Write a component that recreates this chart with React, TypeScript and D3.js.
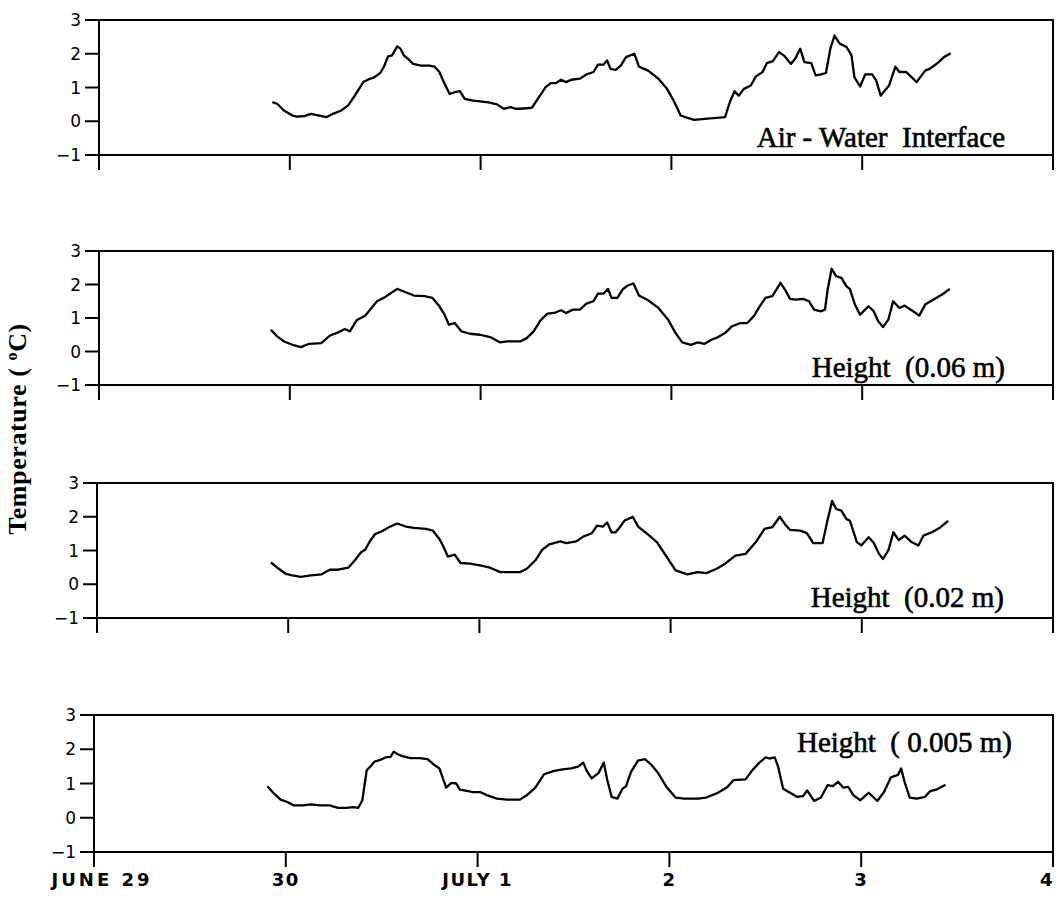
import * as d3 from 'd3'

// days since June 29 00:00 -> temperature (°C)
const airWater: [number, number][] = [
  [0.913, 0.56], [0.935, 0.51], [0.969, 0.32], [1.014, 0.17], [1.04, 0.14], [1.076, 0.15],
  [1.111, 0.22], [1.155, 0.17], [1.191, 0.12], [1.226, 0.22], [1.27, 0.32], [1.306, 0.47],
  [1.341, 0.76], [1.385, 1.16], [1.412, 1.24], [1.439, 1.29], [1.474, 1.43], [1.492, 1.6],
  [1.515, 1.92], [1.536, 1.95], [1.563, 2.22], [1.58, 2.15], [1.598, 1.95], [1.625, 1.82],
  [1.646, 1.7], [1.687, 1.65], [1.731, 1.65], [1.758, 1.62], [1.784, 1.46], [1.811, 1.11],
  [1.838, 0.81], [1.864, 0.86], [1.891, 0.89], [1.917, 0.66], [1.961, 0.61], [1.997, 0.59],
  [2.041, 0.56], [2.086, 0.5], [2.121, 0.37], [2.157, 0.42], [2.183, 0.37], [2.207, 0.37],
  [2.269, 0.4], [2.305, 0.71], [2.341, 1.01], [2.368, 1.13], [2.395, 1.13], [2.421, 1.23],
  [2.448, 1.16], [2.475, 1.23], [2.52, 1.26], [2.555, 1.39], [2.592, 1.46], [2.615, 1.68],
  [2.645, 1.68], [2.663, 1.8], [2.681, 1.55], [2.708, 1.52], [2.735, 1.65], [2.762, 1.9],
  [2.806, 2.0], [2.83, 1.62], [2.878, 1.5], [2.932, 1.26], [2.977, 0.96], [3.012, 0.61],
  [3.049, 0.17], [3.084, 0.1], [3.12, 0.04], [3.174, 0.07], [3.237, 0.1], [3.281, 0.12],
  [3.309, 0.61], [3.331, 0.89], [3.353, 0.76], [3.38, 0.96], [3.416, 1.06], [3.443, 1.33],
  [3.478, 1.46], [3.5, 1.72], [3.532, 1.78], [3.564, 2.05], [3.595, 1.92], [3.626, 1.7],
  [3.649, 1.85], [3.675, 2.15], [3.697, 1.75], [3.733, 1.72], [3.756, 1.36], [3.784, 1.39],
  [3.81, 1.43], [3.833, 2.15], [3.855, 2.54], [3.882, 2.3], [3.918, 2.2], [3.944, 1.95],
  [3.959, 1.31], [3.989, 1.03], [4.016, 1.39], [4.052, 1.39], [4.073, 1.21], [4.097, 0.76],
  [4.141, 1.06], [4.174, 1.62], [4.195, 1.46], [4.231, 1.46], [4.285, 1.16], [4.33, 1.5],
  [4.356, 1.56], [4.401, 1.75], [4.428, 1.9], [4.46, 2.0],
]

const height006: [number, number][] = [
  [0.904, 0.63], [0.934, 0.45], [0.97, 0.3], [1.014, 0.2], [1.058, 0.13], [1.102, 0.23],
  [1.165, 0.25], [1.209, 0.47], [1.253, 0.57], [1.288, 0.67], [1.315, 0.6], [1.35, 0.93],
  [1.395, 1.07], [1.421, 1.25], [1.457, 1.5], [1.492, 1.6], [1.519, 1.7], [1.563, 1.87],
  [1.607, 1.77], [1.651, 1.67], [1.705, 1.65], [1.748, 1.6], [1.784, 1.35], [1.811, 1.1],
  [1.834, 0.8], [1.864, 0.85], [1.9, 0.6], [1.944, 0.53], [1.997, 0.5], [2.05, 0.43],
  [2.103, 0.27], [2.139, 0.3], [2.207, 0.3], [2.242, 0.4], [2.278, 0.6], [2.314, 0.93],
  [2.35, 1.13], [2.386, 1.15], [2.421, 1.23], [2.448, 1.15], [2.484, 1.25], [2.52, 1.25],
  [2.555, 1.43], [2.591, 1.5], [2.615, 1.73], [2.645, 1.73], [2.668, 1.87], [2.686, 1.6],
  [2.717, 1.6], [2.744, 1.85], [2.771, 1.97], [2.801, 2.03], [2.83, 1.67], [2.878, 1.53],
  [2.932, 1.3], [2.985, 0.93], [3.022, 0.55], [3.057, 0.27], [3.102, 0.2], [3.138, 0.27],
  [3.174, 0.23], [3.21, 0.35], [3.245, 0.43], [3.281, 0.55], [3.317, 0.75], [3.362, 0.85],
  [3.398, 0.85], [3.434, 1.07], [3.461, 1.33], [3.493, 1.6], [3.529, 1.65], [3.572, 2.05],
  [3.595, 1.85], [3.622, 1.57], [3.649, 1.55], [3.69, 1.57], [3.721, 1.5], [3.748, 1.25],
  [3.784, 1.2], [3.805, 1.25], [3.819, 1.85], [3.84, 2.47], [3.863, 2.25], [3.891, 2.2],
  [3.917, 1.95], [3.935, 1.87], [3.962, 1.4], [3.989, 1.1], [4.033, 1.35], [4.06, 1.2],
  [4.084, 0.9], [4.109, 0.73], [4.137, 0.95], [4.162, 1.5], [4.195, 1.3], [4.222, 1.37],
  [4.267, 1.2], [4.299, 1.07], [4.33, 1.4], [4.374, 1.55], [4.419, 1.7], [4.455, 1.85],
]

const height002: [number, number][] = [
  [0.913, 0.63], [0.943, 0.49], [0.987, 0.31], [1.022, 0.26], [1.066, 0.22], [1.119, 0.26],
  [1.173, 0.29], [1.217, 0.43], [1.261, 0.43], [1.314, 0.49], [1.349, 0.71], [1.381, 0.95],
  [1.402, 1.02], [1.429, 1.29], [1.455, 1.49], [1.491, 1.57], [1.526, 1.69], [1.57, 1.8],
  [1.615, 1.71], [1.658, 1.67], [1.721, 1.64], [1.756, 1.59], [1.791, 1.34], [1.809, 1.15],
  [1.835, 0.82], [1.871, 0.88], [1.901, 0.63], [1.95, 0.61], [2.003, 0.56], [2.056, 0.49],
  [2.109, 0.36], [2.163, 0.36], [2.212, 0.36], [2.248, 0.46], [2.293, 0.71], [2.328, 1.02],
  [2.365, 1.18], [2.423, 1.27], [2.454, 1.22], [2.507, 1.27], [2.543, 1.41], [2.588, 1.51],
  [2.615, 1.74], [2.645, 1.71], [2.668, 1.83], [2.691, 1.54], [2.713, 1.54], [2.734, 1.69],
  [2.758, 1.88], [2.802, 2.0], [2.83, 1.71], [2.883, 1.47], [2.928, 1.25], [2.981, 0.8],
  [3.026, 0.41], [3.088, 0.29], [3.142, 0.36], [3.187, 0.33], [3.241, 0.46], [3.285, 0.61],
  [3.339, 0.85], [3.392, 0.9], [3.446, 1.25], [3.491, 1.64], [3.532, 1.69], [3.571, 2.0],
  [3.598, 1.78], [3.625, 1.61], [3.678, 1.59], [3.714, 1.51], [3.746, 1.22], [3.795, 1.22],
  [3.822, 1.93], [3.845, 2.47], [3.866, 2.23], [3.893, 2.18], [3.92, 1.93], [3.938, 1.88],
  [3.974, 1.25], [3.997, 1.15], [4.036, 1.39], [4.063, 1.22], [4.09, 0.9], [4.111, 0.75],
  [4.14, 1.02], [4.165, 1.54], [4.193, 1.31], [4.224, 1.44], [4.26, 1.25], [4.296, 1.15],
  [4.322, 1.44], [4.367, 1.54], [4.412, 1.69], [4.448, 1.86],
]

const height0005: [number, number][] = [
  [0.908, 0.9], [0.938, 0.71], [0.973, 0.53], [1.008, 0.46], [1.043, 0.36], [1.088, 0.36],
  [1.131, 0.39], [1.176, 0.36], [1.228, 0.36], [1.273, 0.29], [1.316, 0.29], [1.352, 0.31],
  [1.378, 0.29], [1.399, 0.51], [1.422, 1.39], [1.44, 1.49], [1.463, 1.64], [1.493, 1.69],
  [1.519, 1.76], [1.546, 1.78], [1.563, 1.93], [1.581, 1.86], [1.607, 1.8], [1.651, 1.74],
  [1.696, 1.74], [1.739, 1.71], [1.775, 1.54], [1.801, 1.44], [1.819, 1.15], [1.836, 0.88],
  [1.863, 1.02], [1.889, 1.0], [1.907, 0.82], [1.951, 0.78], [1.978, 0.75], [2.013, 0.75],
  [2.048, 0.66], [2.101, 0.56], [2.154, 0.53], [2.221, 0.53], [2.257, 0.66], [2.301, 0.88],
  [2.346, 1.27], [2.399, 1.37], [2.444, 1.41], [2.488, 1.44], [2.524, 1.49], [2.551, 1.61],
  [2.569, 1.37], [2.595, 1.15], [2.631, 1.31], [2.658, 1.61], [2.676, 1.1], [2.699, 0.61],
  [2.729, 0.56], [2.756, 0.85], [2.774, 0.92], [2.8, 1.34], [2.836, 1.67], [2.872, 1.71],
  [2.907, 1.54], [2.943, 1.29], [2.987, 0.88], [3.032, 0.59], [3.077, 0.56], [3.148, 0.56],
  [3.192, 0.59], [3.246, 0.71], [3.299, 0.88], [3.335, 1.1], [3.397, 1.12], [3.433, 1.39],
  [3.469, 1.61], [3.501, 1.76], [3.522, 1.73], [3.549, 1.76], [3.567, 1.49], [3.593, 0.85],
  [3.629, 0.73], [3.665, 0.61], [3.697, 0.63], [3.718, 0.8], [3.754, 0.49], [3.79, 0.59],
  [3.825, 0.95], [3.852, 0.92], [3.879, 1.05], [3.906, 0.88], [3.932, 0.9], [3.959, 0.66],
  [3.995, 0.51], [4.039, 0.73], [4.084, 0.49], [4.119, 0.75], [4.155, 1.18], [4.191, 1.25],
  [4.208, 1.44], [4.226, 1.05], [4.253, 0.59], [4.289, 0.56], [4.333, 0.61], [4.36, 0.78],
  [4.396, 0.83], [4.435, 0.95],
]

const dayTicks = [0, 1, 2, 3, 4, 5]
const dayLabels = ['JUNE 29', '30', 'JULY 1', '2', '3', '4']
const tempTicks = [3, 2, 1, 0, -1]
const panelTitles = ['Air - Water  Interface', 'Height  (0.06 m)', 'Height  (0.02 m)', 'Height  ( 0.005 m)']
const panelSeries = [airWater, height006, height002, height0005]

// frame geometry of each panel (the scan is slightly skewed)
const panels = [
  { left: 99, top: 20, bottom: 155, titleX: 1005, titleY: 147 },
  { left: 99, top: 251, bottom: 385, titleX: 1005, titleY: 377 },
  { left: 97, top: 483, bottom: 618, titleX: 1004, titleY: 607 },
  { left: 94, top: 715, bottom: 852, titleX: 1012, titleY: 752 },
]
const right = 1053

const tickFont = '"DejaVu Sans", sans-serif'
const serif = '"Liberation Serif", "Times New Roman", serif'

function Panel({ idx }: { idx: number }) {
  const p = panels[idx]
  const x = d3.scaleLinear().domain([0, 5]).range([p.left, right])
  const y = d3.scaleLinear().domain([-1, 3]).range([p.bottom, p.top])
  const line = d3
    .line<[number, number]>()
    .x((d) => x(d[0]))
    .y((d) => y(d[1]))
  const isLast = idx === panels.length - 1

  return (
    <g>
      <rect
        x={p.left}
        y={p.top}
        width={right - p.left}
        height={p.bottom - p.top}
        fill="none"
        stroke="#000"
        strokeWidth={2}
      />
      {tempTicks.map((t) => (
        <g key={t}>
          <line x1={p.left - 14} x2={p.left} y1={y(t)} y2={y(t)} stroke="#000" strokeWidth={2} />
          <text
            x={p.left - 18}
            y={y(t)}
            dy="0.36em"
            textAnchor="end"
            fontFamily={tickFont}
            fontSize={17}
          >
            {t < 0 ? '\u2212' + Math.abs(t) : t}
          </text>
        </g>
      ))}
      {dayTicks.map((d) => (
        <line key={d} x1={x(d)} x2={x(d)} y1={p.bottom} y2={p.bottom + 15} stroke="#000" strokeWidth={2} />
      ))}
      {isLast &&
        dayTicks.map((d, i) => (
          <text
            key={'l' + d}
            x={i === 0 ? x(d) + 8 : i === dayTicks.length - 1 ? x(d) - 6 : x(d)}
            y={886}
            textAnchor="middle"
            fontFamily={tickFont}
            fontSize={18}
            fontWeight="bold"
            letterSpacing={i === 0 ? 3 : 1.5}
            style={{ whiteSpace: 'pre' }}
          >
            {dayLabels[i]}
          </text>
        ))}
      <path
        d={line(panelSeries[idx]) ?? ''}
        fill="none"
        stroke="#000"
        strokeWidth={2.3}
        strokeLinejoin="round"
        strokeLinecap="round"
      />
      <text
        x={p.titleX}
        y={p.titleY}
        textAnchor="end"
        fontFamily={serif}
        fontSize={29}
        stroke="#000"
        strokeWidth={0.6}
        style={{ whiteSpace: 'pre' }}
      >
        {panelTitles[idx]}
      </text>
    </g>
  )
}

export default function App() {
  return (
    <svg
      width={1056}
      height={900}
      style={{ position: 'absolute', left: 0, top: 0, background: '#fff' }}
    >
      {panels.map((_, i) => (
        <Panel key={i} idx={i} />
      ))}
      <text
        transform="translate(26, 429) rotate(-90)"
        textAnchor="middle"
        fontFamily={serif}
        fontSize={26}
        fontWeight="bold"
        letterSpacing={0.6}
        style={{ whiteSpace: 'pre' }}
      >
        Temperature ( <tspan dy={-9} fontSize={16}>o</tspan>
        <tspan dy={9}>C)</tspan>
      </text>
    </svg>
  )
}
